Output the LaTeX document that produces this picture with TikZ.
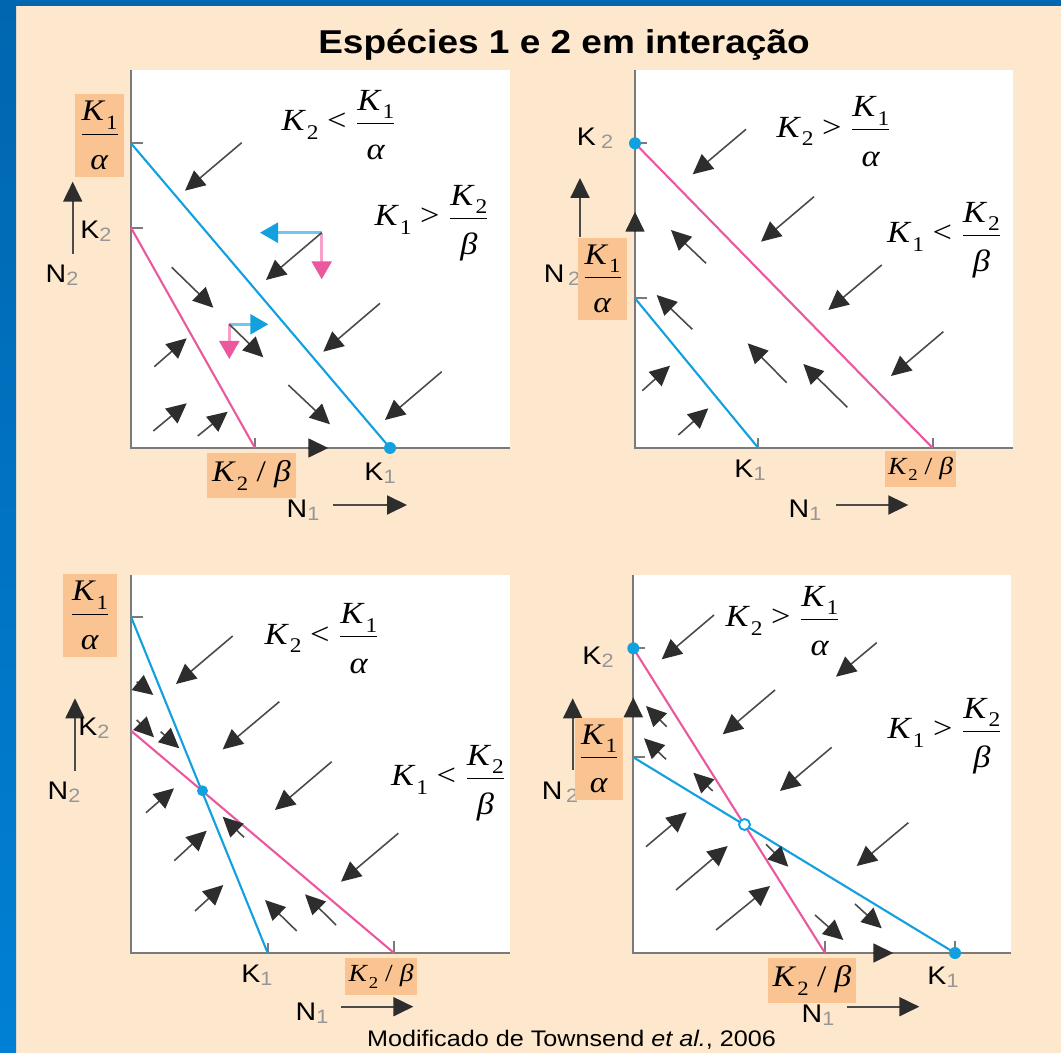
\documentclass[tikz,border=0pt]{standalone}
\usepackage{fontspec}
\setmainfont{Liberation Sans}[FakeStretch=1.12]
\newfontfamily\tms{Liberation Serif}[FakeStretch=1.12]
\usepackage{graphicx}
\usepackage{xcolor}
\usepackage{tikz}
\usetikzlibrary{arrows.meta}
\definecolor{fundo}{RGB}{253,232,205}
\definecolor{moldura}{RGB}{0,102,176}
\definecolor{moldura2}{RGB}{0,128,212}
\definecolor{laranja}{RGB}{250,196,146}
\definecolor{azul}{RGB}{18,160,222}
\definecolor{rosa}{RGB}{236,88,158}
\definecolor{azulclaro}{RGB}{110,200,240}
\definecolor{rosaclaro}{RGB}{244,160,200}
\definecolor{escuro}{RGB}{45,45,45}
\definecolor{cinzaseta}{RGB}{75,75,75}
\definecolor{eixocinza}{RGB}{122,122,122}
\definecolor{cinzasub}{RGB}{150,150,150}
\newcommand\ind[1]{\raisebox{-0.25ex}{\color{cinzasub}\fontsize{11}{12}\selectfont #1}}
\newcommand\Ki[1]{\textit{K}\kern0.5pt\raisebox{-0.27em}{\scalebox{0.68}{#1}}}
\newcommand\fr[2]{$\displaystyle{\hbox{#1}\over\hbox{\rule{0pt}{1.1em}#2}}$}
\tikzset{
  eixo/.style={draw=eixocinza,line width=1.1pt},
  isoazul/.style={draw=azul,line width=1.2pt},
  isorosa/.style={draw=rosa,line width=1.2pt},
  seta/.style={-{Triangle[length=0.4cm,width=0.38cm,color=escuro]},draw=cinzaseta,line width=0.9pt},
  compazul/.style={-{Triangle[length=0.36cm,width=0.4cm,color=azul]},draw=azulclaro,line width=1.4pt},
  comprosa/.style={-{Triangle[length=0.36cm,width=0.4cm,color=rosa]},draw=rosaclaro,line width=1.4pt},
  caixa/.style={fill=laranja,inner sep=0pt,font=\tms\fontsize{17}{20}\selectfont},
  rot/.style={inner sep=0pt,font=\fontsize{14.5}{16}\selectfont},
  mat/.style={inner sep=0pt,font=\tms\fontsize{17.5}{20}\selectfont},
  pto/.style={circle,fill=azul,inner sep=0pt,minimum size=0.24cm}
}
\begin{document}
\begin{tikzpicture}[x=0.02cm,y=-0.02cm]
\useasboundingbox (0,0) rectangle (1061,1053);
\fill[fundo] (0,0) rectangle (1061,1053);
\fill[moldura] (0,0) rectangle (1061,6);
\shade[top color=moldura,bottom color=moldura2] (0,0) rectangle (16,1053);
\node[inner sep=0pt,anchor=base,font=\bfseries\fontsize{18.8}{22}\selectfont] (titulo) at (564,53.3) {Espécies 1 e 2 em interação};

% painel 1
\fill[white] (131,70) rectangle (510,448);
\draw[eixo] (131,70) -- (131,448) -- (510,448);
\draw[eixo] (131,143.3) -- +(12,0) (131,227.7) -- +(12,0) (255,448) -- +(0,-10);
\coordinate (p1ka) at (131,143.3);
\coordinate (p1kb) at (390,448);
\coordinate (p1kc) at (131,227.7);
\coordinate (p1kd) at (255,448);
\draw[isoazul] (p1ka) -- (p1kb);
\draw[isorosa] (p1kc) -- (p1kd);
\node[pto] (p1eq) at (p1kb) {};
\draw[seta] (241.7,142.7) -- (185,190.7);
\draw[seta] (380,303.3) -- (323.3,351.7);
\draw[seta] (441.7,371.7) -- (385,420);
\draw[seta] (171.7,267.3) -- (213.3,307.7);
\draw[seta] (288.3,385) -- (330,424.3);
\draw[seta] (154.3,366.7) -- (186.7,338.3);
\draw[seta] (153.3,431) -- (186.7,403.3);
\draw[seta] (197.7,436) -- (227.7,411.7);
\draw[seta] (308,448) -- (328.3,448);
\draw[compazul] (321.7,232.7) -- (260,232.7);
\draw[comprosa] (321.7,232.7) -- (321.7,279.3);
\draw[seta] (321.7,232.7) -- (266,280);
\draw[compazul] (229.3,324.3) -- (268.3,324.3);
\draw[comprosa] (229.3,324.3) -- (229.3,359);
\draw[seta] (229.3,324.3) -- (263.3,357.3);
\draw[seta,line width=1.1pt] (72.7,254) -- (72.7,181.7);
\draw[seta,line width=1.1pt] (333,505) -- (407,505);
\node[rot] (p1k2) at (96,231) {K\ind{2}};
\node[rot] (p1n2) at (62,275) {N\ind{2}};
\node[rot] (p1k1) at (380,473) {K\ind{1}};
\node[rot] (p1n1) at (303,510) {N\ind{1}};
\node[caixa,minimum width=0.98cm,minimum height=1.66cm] (p1ca) at (99.5,135.5) {\fr{\Ki1}{\textit{α}}};
\node[caixa,minimum width=1.78cm,minimum height=0.9cm] (p1cb) at (251.5,475.5) {\Ki2 / \textit{β}};
\node[mat] (p1a) at (339,125) {\Ki2 < \fr{\Ki1}{\textit{α}}};
\node[mat] (p1b) at (432,223) {\Ki1 > \fr{\Ki2}{\textit{β}}};

% painel 2
\fill[white] (635,70) rectangle (1013,448);
\draw[eixo] (635,70) -- (635,448) -- (1013,448);
\draw[eixo] (635,143.3) -- +(12,0) (635,298.3) -- +(12,0) (758.3,448) -- +(0,-10) (932.7,448) -- +(0,-10);
\coordinate (p2ka) at (635,143.3);
\coordinate (p2kb) at (932.7,448);
\coordinate (p2kc) at (635,298.3);
\coordinate (p2kd) at (758.3,448);
\draw[isorosa] (p2ka) -- (p2kb);
\draw[isoazul] (p2kc) -- (p2kd);
\node[pto] (p2eq) at (p2ka) {};
\draw[seta] (746,129.3) -- (692.7,174.3);
\draw[seta] (814,196.7) -- (761,241.7);
\draw[seta] (881.7,265) -- (828.3,310);
\draw[seta] (943.3,331.7) -- (891,376);
\draw[seta] (706,263.3) -- (671,230);
\draw[seta] (692.3,329.3) -- (656.7,295);
\draw[seta] (786.7,382.7) -- (747.7,343.3);
\draw[seta] (847.3,407.3) -- (803.3,364);
\draw[seta] (642.3,390.7) -- (670,365.7);
\draw[seta] (678.3,435) -- (708.3,408.3);
\draw[seta] (635,232) -- (635,211.7);
\draw[seta,line width=1.1pt] (580,236.7) -- (580,178);
\draw[seta,line width=1.1pt] (836,505) -- (908.3,505);
\node[rot] (p2k2) at (595,138) {K\hspace{3pt}\ind{2}};
\node[rot] (p2n2) at (562,275) {N\hspace{2pt}\ind{2}};
\node[rot] (p2k1) at (750,470) {K\ind{1}};
\node[rot] (p2n1) at (805,510) {N\ind{1}};
\node[caixa,minimum width=0.98cm,minimum height=1.64cm] (p2ca) at (602.5,279) {\fr{\Ki1}{\textit{α}}};
\node[caixa,minimum width=1.42cm,minimum height=0.72cm,font=\tms\fontsize{14}{16}\selectfont] (p2cb) at (920.5,469) {\Ki2 / \textit{β}};
\node[mat] (p2a) at (834,131.5) {\Ki2 > \fr{\Ki1}{\textit{α}}};
\node[mat] (p2b) at (944.5,240) {\Ki1 < \fr{\Ki2}{\textit{β}}};

% painel 3
\fill[white] (131,575) rectangle (510,953);
\draw[eixo] (131,575) -- (131,953) -- (510,953);
\draw[eixo] (131,616.7) -- +(12,0) (267.7,953) -- +(0,-10) (394,953) -- +(0,-12);
\coordinate (p3ka) at (131,616.7);
\coordinate (p3kb) at (267.7,953);
\coordinate (p3kc) at (131,730.7);
\coordinate (p3kd) at (394,953);
\draw[isoazul] (p3ka) -- (p3kb);
\draw[isorosa] (p3kc) -- (p3kd);
\node[pto,minimum size=0.22cm] (p3eq) at (202.5,790.8) {};
\draw[seta] (232.7,636) -- (176,684);
\draw[seta] (279.3,701.7) -- (222.7,749.3);
\draw[seta] (331.7,761.7) -- (275,810);
\draw[seta] (398.3,833.3) -- (341,881.7);
\draw[seta] (136.7,681.7) -- (153.3,695);
\draw[seta] (136.7,720) -- (154,737.3);
\draw[seta] (160.7,731.7) -- (179.3,748.3);
\draw[seta] (146,812.7) -- (174,788.3);
\draw[seta] (174.3,860.7) -- (206.7,830.7);
\draw[seta] (195,911) -- (223.3,885);
\draw[seta] (244,837.3) -- (222.7,816.7);
\draw[seta] (296.7,931) -- (265,900);
\draw[seta] (336,925) -- (305,894.3);
\draw[seta,line width=1.1pt] (75,770.7) -- (75,698.3);
\draw[seta,line width=1.1pt] (341,1006.7) -- (413.3,1006.7);
\node[rot] (p3k2) at (94,728) {K\ind{2}};
\node[rot] (p3n2) at (64,792) {N\ind{2}};
\node[rot] (p3k1) at (257,975) {K\ind{1}};
\node[rot] (p3n1) at (312,1013) {N\ind{1}};
\node[caixa,minimum width=1.08cm,minimum height=1.66cm] (p3ca) at (90,615.5) {\fr{\Ki1}{\textit{α}}};
\node[caixa,minimum width=1.44cm,minimum height=0.74cm,font=\tms\fontsize{14}{16}\selectfont] (p3cb) at (381,976.5) {\Ki2 / \textit{β}};
\node[mat] (p3a) at (322,638.5) {\Ki2 < \fr{\Ki1}{\textit{α}}};
\node[mat] (p3b) at (448.5,783) {\Ki1 < \fr{\Ki2}{\textit{β}}};

% painel 4
\fill[white] (633.3,575) rectangle (1011,953);
\draw[eixo] (633.3,575) -- (633.3,953) -- (1011,953);
\draw[eixo] (633.3,648.3) -- +(12,0) (633.3,757.3) -- +(12,0) (825,953) -- +(0,-12) (955,953) -- +(0,-12);
\coordinate (p4ka) at (633.3,648.3);
\coordinate (p4kb) at (825,953);
\coordinate (p4kc) at (633.3,757.3);
\coordinate (p4kd) at (955,953);
\draw[isorosa] (p4ka) -- (p4kb);
\draw[isoazul] (p4kc) -- (p4kd);
\node[pto] (p4eqa) at (p4ka) {};
\node[pto] (p4eqb) at (p4kd) {};
\node[circle,draw=azul,fill=white,line width=1.1pt,inner sep=0pt,minimum size=0.22cm] (p4sela) at (744.5,824.5) {};
\draw[seta] (714,615) -- (661.7,659.3);
\draw[seta] (876.7,642.7) -- (836,676.7);
\draw[seta] (775,690) -- (722.7,734.3);
\draw[seta] (831.7,747.3) -- (780,791);
\draw[seta] (908.3,822.7) -- (856.7,866);
\draw[seta] (666.7,726.7) -- (646,706);
\draw[seta] (666,759.3) -- (644,738.3);
\draw[seta] (712.7,791) -- (693.3,772.7);
\draw[seta] (646,846.7) -- (686.7,812.3);
\draw[seta] (676,890) -- (727.7,846);
\draw[seta] (716,930) -- (770,886);
\draw[seta] (766,844.3) -- (788.3,866.7);
\draw[seta] (815,915) -- (843.3,940);
\draw[seta] (855,904) -- (881.7,928.3);
\draw[seta] (873,953) -- (893.3,953);
\draw[seta] (633.3,718) -- (633.3,697.3);
\draw[seta,line width=1.1pt] (572.7,770) -- (572.7,698.3);
\draw[seta,line width=1.1pt] (846.7,1006.7) -- (919.3,1006.7);
\node[rot] (p4k2) at (598,657) {K\ind{2}};
\node[rot] (p4n2) at (560,792) {N\hspace{2pt}\ind{2}};
\node[rot] (p4k1) at (943,977) {K\ind{1}};
\node[rot] (p4n1) at (818,1015) {N\ind{1}};
\node[caixa,minimum width=0.96cm,minimum height=1.64cm] (p4ca) at (599,759) {\fr{\Ki1}{\textit{α}}};
\node[caixa,minimum width=1.76cm,minimum height=0.9cm] (p4cb) at (812,980.5) {\Ki2 / \textit{β}};
\node[mat] (p4a) at (783,621) {\Ki2 > \fr{\Ki1}{\textit{α}}};
\node[mat] (p4b) at (945,736) {\Ki1 > \fr{\Ki2}{\textit{β}}};

\node[inner sep=0pt,anchor=base,font=\fontsize{12.8}{15}\selectfont] (fonte) at (571.5,1046.7) {Modificado de Townsend \textit{et al.}, 2006};
\end{tikzpicture}
\end{document}
